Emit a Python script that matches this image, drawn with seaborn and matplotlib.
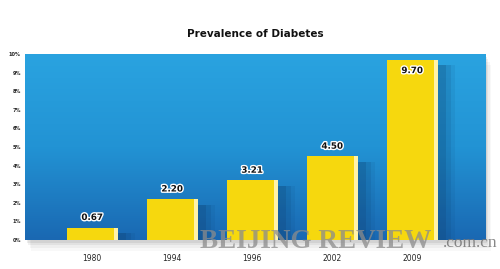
import matplotlib
matplotlib.use("Agg")
import matplotlib.pyplot as plt
import matplotlib.patheffects as pe
from matplotlib.colors import LinearSegmentedColormap
import numpy as np
import pandas as pd
import seaborn as sns

years = ["1980", "1994", "1996", "2002", "2009"]
values = [0.67, 2.20, 3.21, 4.50, 9.70]
value_labels = ["0.67", "2.20", "3.21", "4.50", "9.70"]
ytick_vals = list(range(0, 11))
ytick_labels = [f"{v}%" for v in ytick_vals]

sns.set_style("white")
plt.rcParams['font.family'] = ['DejaVu Sans']

fig = plt.figure(figsize=(5.0, 2.69), dpi=100)
fig.patch.set_facecolor("white")
ax = fig.add_axes([25/500, 1-240/269, 460/500, 186/269])

df = pd.DataFrame({"year": years, "value": values})

# panel drop shadow
for k, a in enumerate([0.10, 0.08, 0.06, 0.04]):
    fig.patches.append(plt.Rectangle((25/500 + (k+1)*0.003, 1-240/269 - (k+1)*0.01),
                                     460/500, 186/269, transform=fig.transFigure,
                                     facecolor="#555555", alpha=a, edgecolor="none", zorder=-1))

grad = np.linspace(0, 1, 256).reshape(-1, 1)
cmap = LinearSegmentedColormap.from_list("bg", ["#1a68b2", "#2293d4", "#2aa3e0"])
ax.imshow(grad, aspect="auto", cmap=cmap, extent=[-0.84, 4.91, 0, 10], origin="lower", zorder=0)

# soft shadows to the right of bars
for i, v in enumerate(values):
    for off, a in [(0.10, 0.18), (0.16, 0.12), (0.22, 0.08)]:
        ax.bar(i + off, v - 0.3, width=0.64, bottom=0, color="#0b3763", alpha=a,
               zorder=1, linewidth=0, edgecolor="none")

sns.barplot(data=df, x="year", y="value", color="#f6d80e", width=0.64, ax=ax,
            saturation=1, zorder=2, linewidth=0, edgecolor="none")
for i, v in enumerate(values):
    ax.bar(i + 0.295, v, width=0.05, color="#fff3a8", zorder=3, linewidth=0, edgecolor="none")

for i, (v, lab) in enumerate(zip(values, value_labels)):
    if v > 9:
        y, va = v - 0.35, "top"
    else:
        y, va = v + 0.3, "bottom"
    ax.text(i, y, lab, ha="center", va=va, fontsize=6.3, fontweight="bold",
            color="#111111", zorder=4,
            path_effects=[pe.withStroke(linewidth=2.0, foreground="white")])

ax.set_xlim(-0.84, 4.91)
ax.set_ylim(0, 10)
ax.set_yticks(ytick_vals)
ax.set_yticklabels(ytick_labels, fontsize=3.6, fontweight="bold")
ax.set_xticks(range(len(years)))
ax.set_xticklabels(years, fontsize=5.5)
ax.tick_params(axis="both", length=0, pad=3)
ax.tick_params(axis="x", pad=10)
ax.set_xlabel("")
ax.set_ylabel("")
for s in ax.spines.values():
    s.set_visible(False)

fig.text(0.51, 1-34/269, "Prevalence of Diabetes", ha="center", va="center",
         fontsize=7.5, fontweight="bold", color="#111111")

fig.text(200/500, 1-242/269, "BEIJING REVIEW", ha="left", va="center", fontsize=19.5,
         family="Liberation Serif", fontweight="bold", color="#8c8c8c", alpha=0.75,
         zorder=10)
fig.text(498/500, 1-243/269, ".com.cn", ha="right", va="center", fontsize=12.5,
         family="Liberation Serif", color="#7a7a7a", alpha=0.9, zorder=10)

fig.savefig("out.png", dpi=100, facecolor="white")
